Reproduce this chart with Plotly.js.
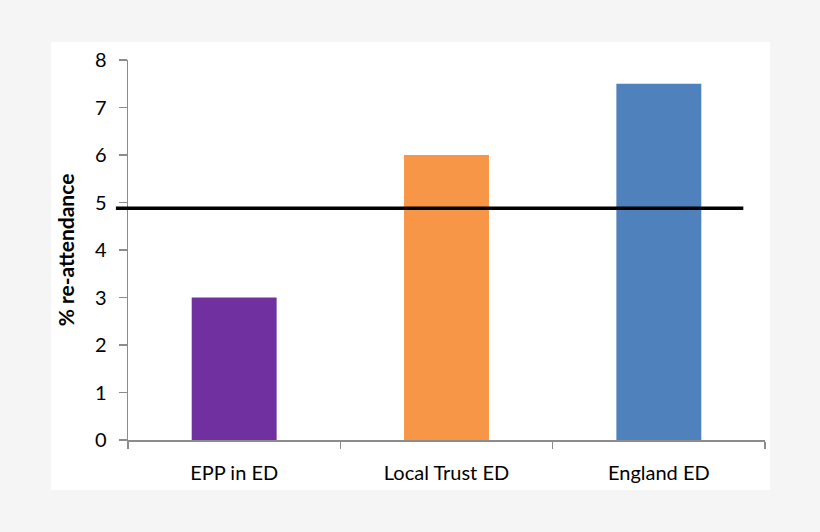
<!DOCTYPE html>
<html>
<head>
<meta charset="utf-8">
<script src="https://cdn.plot.ly/plotly-3.0.1.min.js"></script>
<style>
  html, body { margin: 0; padding: 0; background: #f5f5f5; }
  #chart { position: absolute; left: 51px; top: 42px; width: 719px; height: 448px; }
</style>
</head>
<body>
<div id="chart"></div>
<script>
// values
var categories = ['EPP in ED', 'Local Trust ED', 'England ED'];
var reattendance = [3.0, 6.0, 7.5];
var barColors = ['#7030a0', '#f79646', '#4f81bd'];
var referenceLevel = [4.88];

var data = [{
  type: 'bar',
  x: categories,
  y: reattendance,
  marker: { color: barColors },
  hoverinfo: 'x+y'
}];

var axisGrey = '#8c8c8c';
var layout = {
  width: 719,
  height: 448,
  margin: { l: 77, r: 5, t: 18, b: 50 },
  paper_bgcolor: '#ffffff',
  plot_bgcolor: '#ffffff',
  font: { family: 'Lato, "Open Sans", sans-serif', color: '#000000', size: 18 },
  showlegend: false,
  bargap: 0.6,
  xaxis: {
    type: 'category',
    showline: true, linecolor: axisGrey, linewidth: 1.5,
    ticks: 'outside', tickson: 'boundaries', ticklen: 7, tickcolor: axisGrey, tickwidth: 1.5,
    showgrid: false, zeroline: false,
    tickfont: { size: 20 },
    ticklabelstandoff: 14
  },
  yaxis: {
    range: [0, 8], dtick: 1,
    showline: true, linecolor: axisGrey, linewidth: 1.5,
    ticks: 'outside', ticklen: 8, tickcolor: axisGrey, tickwidth: 1.5,
    showgrid: false, zeroline: false,
    tickfont: { size: 20 },
    ticklabelstandoff: 8,
    title: { text: '% re-attendance', font: { size: 21, weight: 'bold' }, standoff: 14 }
  },
  shapes: referenceLevel.map(function (v) {
    return {
      type: 'line', xref: 'paper', yref: 'y',
      x0: -0.019, x1: 0.966, y0: v, y1: v,
      line: { color: '#000000', width: 3.5 }
    };
  })
};

Plotly.newPlot('chart', data, layout, { displayModeBar: false, staticPlot: true });
</script>
</body>
</html>
